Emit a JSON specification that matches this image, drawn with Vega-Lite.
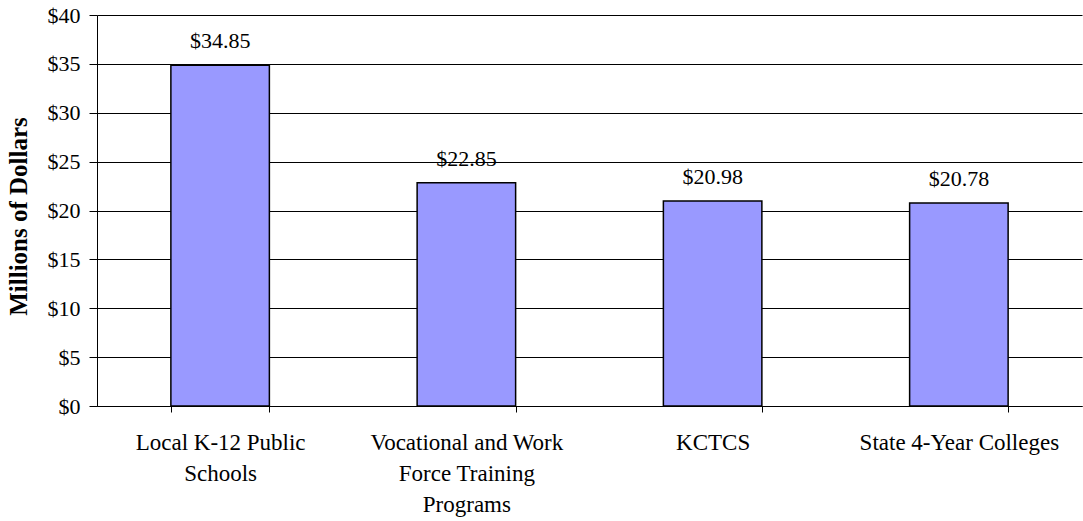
{
  "$schema": "https://vega.github.io/schema/vega-lite/v6.json",
  "width": 985,
  "height": 391,
  "autosize": "none",
  "padding": {"left": 97, "top": 15, "right": 1, "bottom": 115},
  "config": {"font": "Liberation Serif, Times New Roman, serif", "view": {"stroke": null}, "background": "#ffffff"},
  "data": {
    "values": [
      {"category": "Local K-12 Public Schools", "value": 34.85},
      {"category": "Vocational and Work Force Training Programs", "value": 22.85},
      {"category": "KCTCS", "value": 20.98},
      {"category": "State 4-Year Colleges", "value": 20.78}
    ]
  },
  "encoding": {
    "x": {
      "field": "category",
      "type": "nominal",
      "sort": null,
      "scale": {"paddingInner": 0.6, "paddingOuter": 0.3},
      "axis": {
        "title": null,
        "labelAngle": 0,
        "tickBand": "extent",
        "tickSize": 6,
        "tickColor": "#000",
        "domainColor": "#000",
        "labelColor": "#000",
        "labelFont": "Liberation Serif, Times New Roman, serif",
        "labelFontSize": 23,
        "labelLineHeight": 31,
        "labelPadding": 19,
        "labelLimit": 0,
        "labelExpr": "datum.value == 'Local K-12 Public Schools' ? ['Local K-12 Public', 'Schools'] : datum.value == 'Vocational and Work Force Training Programs' ? ['Vocational and Work', 'Force Training', 'Programs'] : datum.value"
      }
    },
    "y": {
      "field": "value",
      "type": "quantitative",
      "scale": {"domain": [0, 40]},
      "axis": {
        "title": "Millions of Dollars",
        "titleFont": "Liberation Serif, Times New Roman, serif",
        "titleFontSize": 25,
        "titleFontWeight": "bold",
        "titleColor": "#000",
        "titleX": -79,
        "titleY": 201,
        "titleBaseline": "middle",
        "titleAlign": "center",
        "values": [0, 5, 10, 15, 20, 25, 30, 35, 40],
        "format": "$d",
        "grid": true,
        "gridColor": "#000",
        "gridOpacity": 1,
        "domainColor": "#000",
        "tickColor": "#000",
        "tickSize": 8,
        "labelFont": "Liberation Serif, Times New Roman, serif",
        "labelFontSize": 22,
        "labelColor": "#000",
        "labelPadding": 9
      }
    }
  },
  "layer": [
    {"mark": {"type": "bar", "fill": "#9999FF", "stroke": "#000", "strokeWidth": 1.5}},
    {
      "mark": {"type": "text", "dy": -17, "fontSize": 22, "font": "Liberation Serif, Times New Roman, serif", "color": "#000", "baseline": "alphabetic"},
      "encoding": {"text": {"field": "value", "type": "quantitative", "format": "$.2f"}}
    }
  ]
}
